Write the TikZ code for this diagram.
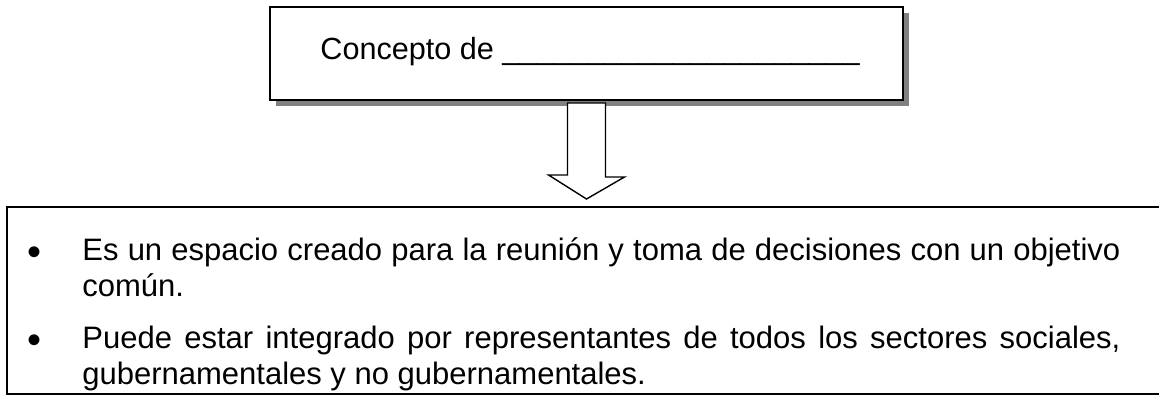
\documentclass[tikz,border=0pt]{standalone}
\usepackage{fontspec}
\setmainfont{Liberation Sans}
\usepackage{tikz}
\usetikzlibrary{shadows, calc}
\definecolor{sombra}{RGB}{128, 128, 128}

\begin{document}
\begin{tikzpicture}[x=0.5pt, y=-0.5pt,
  caja/.style={draw, line width=1pt, fill=white, inner sep=0pt},
  flecha/.style={draw, line width=0.7pt, fill=white, line join=miter},
  letra/.style={font=\fontsize{15.5pt}{18pt}\selectfont}]
\useasboundingbox (0,0) rectangle (1159,396);

% Concepto
\node[caja, minimum width=316.5pt, minimum height=46.5pt,
  drop shadow={shadow xshift=3pt, shadow yshift=-3pt, fill=sombra, opacity=1}]
  (concepto) at (586.5,53.5) {};
\node[font=\fontsize{15.3pt}{17pt}\selectfont, anchor=base west, inner sep=0pt]
  (titulo) at (320,59)
  {Concepto de \_\_\_\_\_\_\_\_\_\_\_\_\_\_\_\_\_\_\_\_\_};

% Lista
\node[caja, fill=none, minimum width=584pt, minimum height=93.5pt]
  (lista) at (591,300.5) {};
\node[letra, anchor=base west, inner sep=0pt] (puntos) at (12,260)
  {\begin{minipage}[t]{554pt}
    \setlength{\leftmargini}{35pt}\setlength{\labelsep}{20.5pt}
    \setlength{\topsep}{0pt}\setlength{\partopsep}{0pt}
    \setlength{\parsep}{0pt}\setlength{\itemsep}{2pt}
    \renewcommand{\labelitemi}{\raisebox{-2.5pt}{\fontsize{20pt}{20pt}\selectfont\textbullet}}
    \begin{itemize}
    \item Es un espacio creado para la reunión y toma de decisiones con un objetivo\linebreak
      común.
    \item Puede estar integrado por representantes de todos los sectores sociales,\linebreak
      gubernamentales y no gubernamentales.
    \end{itemize}
  \end{minipage}};

% Flecha
\draw[flecha] ($(concepto.south)+(-19,2)$) -- ++(38,0) -- ++(0,74) -- ++(19,0)
  -- ($(concepto.south |- lista.north)+(0,-7)$) -- ++(-38,-24) -- ++(19,0) -- cycle;
\end{tikzpicture}
\end{document}
